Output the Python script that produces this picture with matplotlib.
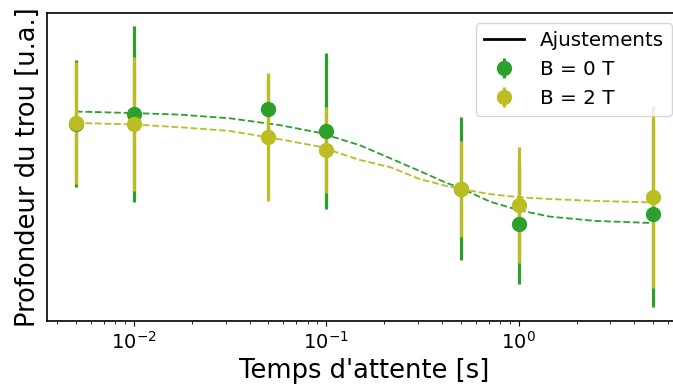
import numpy as np
import matplotlib.pyplot as plt
from matplotlib.lines import Line2D

# temps d'attente (s)
temps = [0.005, 0.01, 0.05, 0.1, 0.5, 1, 5]

# profondeur du trou (u.a.) et incertitudes
prof_0T = [0.640, 0.672, 0.688, 0.617, 0.429, 0.315, 0.347]
err_0T = [0.206, 0.286, 0.097, 0.253, 0.232, 0.195, 0.302]
prof_2T = [0.643, 0.640, 0.597, 0.555, 0.429, 0.377, 0.403]
err_2T = [0.198, 0.218, 0.208, 0.140, 0.156, 0.188, 0.295]

# ajustements
t_fit = [0.005, 0.01, 0.0173, 0.0315, 0.0573, 0.0925, 0.149, 0.214,
         0.306, 0.423, 0.5, 0.707, 1.0, 1.45, 2.5, 5]
fit_0T = [0.680, 0.675, 0.670, 0.658, 0.636, 0.611, 0.571, 0.529,
          0.487, 0.448, 0.432, 0.388, 0.360, 0.339, 0.325, 0.318]
fit_2T = [0.643, 0.638, 0.629, 0.617, 0.590, 0.566, 0.523, 0.500,
          0.461, 0.438, 0.429, 0.412, 0.402, 0.396, 0.390, 0.385]

vert = 'tab:green'
olive = 'tab:olive'

fig = plt.figure(figsize=(6.73, 3.92), dpi=100)
ax = fig.add_axes([0.0698, 0.181, 0.9435, 0.786])

ax.plot(t_fit, fit_0T, '--', color=vert, lw=1.3)
ax.plot(t_fit, fit_2T, '--', color=olive, lw=1.3)
e0 = ax.errorbar(temps, prof_0T, yerr=err_0T, fmt='o', color=vert, ms=10, elinewidth=2.3, capsize=0)
e2 = ax.errorbar(temps, prof_2T, yerr=err_2T, fmt='o', color=olive, ms=10, elinewidth=2.3, capsize=0)

ax.set_xscale('log')
ax.set_ylim(0, 1)
ax.set_yticks([])
ax.tick_params(axis='x', labelsize=14)
for s in ax.spines.values():
    s.set_linewidth(1.2)

ax.set_xlabel("Temps d'attente [s]", fontsize=18.5)
ax.set_ylabel("Profondeur du trou [u.a.]", fontsize=18.5)

ajust = Line2D([], [], color='black', lw=2)
ax.legend([ajust, e0, e2], ['Ajustements', 'B = 0 T', 'B = 2 T'], fontsize=14.3,
          loc='upper right', bbox_to_anchor=(0.9985, 0.941),
          bbox_transform=fig.transFigure, borderaxespad=0)

fig.savefig('out.png', dpi=100)
